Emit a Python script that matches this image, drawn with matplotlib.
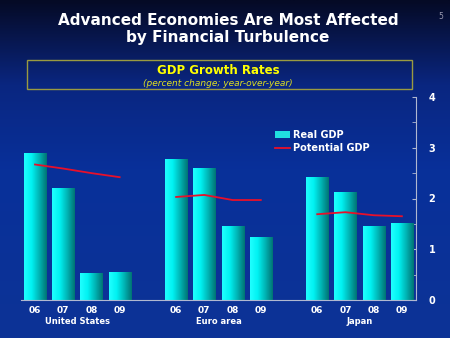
import numpy as np
import matplotlib
matplotlib.use("Agg")
import matplotlib.pyplot as plt
from matplotlib.colors import LinearSegmentedColormap
from matplotlib.patches import Rectangle
from matplotlib.lines import Line2D

# datos del gráfico
regions = ["United States", "Euro area", "Japan"]
years = ["06", "07", "08", "09"]
real_gdp = [
    [2.88, 2.19, 0.52, 0.55],   # United States
    [2.76, 2.59, 1.44, 1.24],   # Euro area
    [2.42, 2.11, 1.44, 1.50],   # Japan
]
potential_gdp = [
    [2.67, 2.59, 2.50, 2.42],
    [2.03, 2.07, 1.97, 1.97],
    [1.69, 1.73, 1.67, 1.65],
]

fig = plt.figure(figsize=(4.5, 3.38), dpi=100)

# fondo degradado (azul oscuro arriba, azul abajo)
bg = fig.add_axes([0, 0, 1, 1])
bg_cmap = LinearSegmentedColormap.from_list(
    "bg", [(0.0, "#050a25"), (0.25, "#0a2680"), (0.5, "#08309a"), (1.0, "#0d3396")])
bg.imshow(np.linspace(0, 1, 256).reshape(-1, 1), aspect="auto", cmap=bg_cmap,
          extent=[0, 1, 0, 1], origin="upper")
bg.set_xlim(0, 1)
bg.set_ylim(0, 1)
bg.axis("off")

# títulos
fig.text(0.507, 0.915, "Advanced Economies Are Most Affected\nby Financial Turbulence",
         ha="center", va="center", color="white", fontsize=11, fontweight="bold",
         linespacing=1.15)
fig.text(0.985, 0.952, "5", ha="right", va="center", color="#9a9ab0", fontsize=5.5)

box = Rectangle((27 / 450, 1 - 89 / 338), (412 - 27) / 450, 29 / 338,
                transform=fig.transFigure, facecolor="none",
                edgecolor="#9a9a40", linewidth=1.0)
fig.add_artist(box)
fig.text(0.485, 1 - 70 / 338, "GDP Growth Rates", ha="center", va="center",
         color="#ffff00", fontsize=8.5, fontweight="bold")
fig.text(0.485, 1 - 83 / 338, "(percent change; year-over-year)", ha="center",
         va="center", color="#e0e020", fontsize=6.5, style="italic")

# ejes principales
ax = fig.add_axes([20.9 / 450, 38 / 338, (416 - 20.9) / 450, (300 - 97) / 338])
ax.set_facecolor("none")

bar_cmap = LinearSegmentedColormap.from_list(
    "bar", ["#20ffff", "#00f2f2", "#00b4b4", "#007474"])
grad = np.linspace(0, 1, 64).reshape(1, -1)
width = 0.78

for g, region in enumerate(regions):
    xs = [g * 5 + i for i in range(len(years))]
    for x, v in zip(xs, real_gdp[g]):
        ax.imshow(grad, cmap=bar_cmap, aspect="auto",
                  extent=[x - width / 2, x + width / 2, 0, v], zorder=2)
    ax.plot(xs, potential_gdp[g], color="#e8102a", linewidth=1.3, zorder=3)
    ax.text(g * 5 + 1.5, -0.42, region, ha="center", va="center",
            color="white", fontsize=6, fontweight="bold")

ax.set_xlim(-0.5, 13.5)
ax.set_ylim(0, 4)

xticks = [g * 5 + i for g in range(3) for i in range(4)]
ax.set_xticks(xticks)
ax.set_xticklabels(years * 3, color="white", fontsize=6.5, fontweight="bold")
ax.tick_params(axis="x", length=0, pad=4)

ax.yaxis.tick_right()
ax.set_yticks([0, 1, 2, 3, 4])
ax.set_yticks(np.arange(0.5, 4, 1), minor=True)
ax.set_yticklabels(["0", "1", "2", "3", "4"], color="white", fontsize=7,
                   fontweight="bold")
ax.tick_params(axis="y", which="both", direction="in", length=3,
               color="#b0b8d0", pad=9, right=True, left=False)

for side in ["top", "left"]:
    ax.spines[side].set_visible(False)
for side in ["right", "bottom"]:
    ax.spines[side].set_color("#b0b8d0")
    ax.spines[side].set_linewidth(0.8)

# leyenda
handles = [Rectangle((0, 0), 1, 1, facecolor="#20e0e0", edgecolor="none"),
           Line2D([0], [0], color="#e8102a", linewidth=1.3)]
leg = ax.legend(handles, ["Real GDP", "Potential GDP"], loc="upper left",
                bbox_to_anchor=(0.62, 0.88), frameon=False, fontsize=7,
                handlelength=1.6, handletextpad=0.3, labelspacing=0.3)
for t in leg.get_texts():
    t.set_color("white")
    t.set_fontweight("bold")

fig.savefig("out.png", dpi=100)
